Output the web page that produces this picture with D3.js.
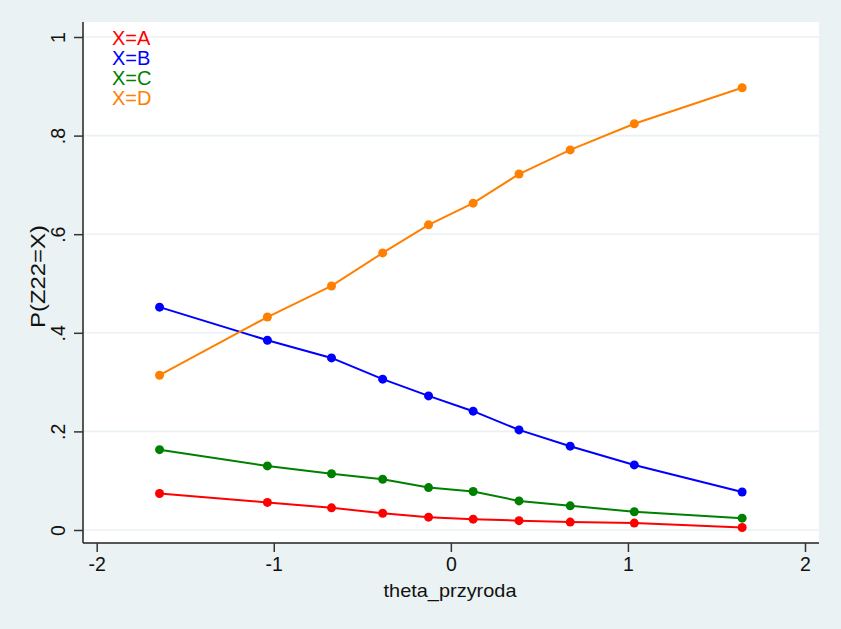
<!DOCTYPE html>
<html>
<head>
<meta charset="utf-8">
<script src="https://cdn.jsdelivr.net/npm/d3@7"></script>
<style>
  html, body { margin: 0; padding: 0; background: #EAF2F3; }
  svg { display: block; font-family: "Liberation Sans", Arial, sans-serif; }
</style>
</head>
<body>
<svg id="chart" width="841" height="629"></svg>
<script>
// ---- data ----
const thetaValues = [-1.645, -1.036, -0.674, -0.385, -0.126, 0.126, 0.385, 0.674, 1.036, 1.645];
const seriesA = [0.074, 0.056, 0.045, 0.034, 0.026, 0.022, 0.019, 0.016, 0.014, 0.005];
const seriesB = [0.452, 0.385, 0.349, 0.306, 0.272, 0.241, 0.203, 0.170, 0.132, 0.077];
const seriesC = [0.163, 0.130, 0.114, 0.103, 0.086, 0.078, 0.059, 0.049, 0.037, 0.024];
const seriesD = [0.314, 0.432, 0.495, 0.562, 0.619, 0.663, 0.722, 0.771, 0.824, 0.897];
const seriesNames = ["X=A", "X=B", "X=C", "X=D"];
const seriesColors = ["#ff0000", "#0000ff", "#008000", "#ff8000"];
const xTicks = [-2, -1, 0, 1, 2];
const yTicks = [0, 0.2, 0.4, 0.6, 0.8, 1];
const yTickLabels = ["0", ".2", ".4", ".6", ".8", "1"];
const xTitle = "theta_przyroda";
const yTitle = "P(Z22=X)";

const allSeries = [seriesA, seriesB, seriesC, seriesD];

const svg = d3.select("#chart");
const W = 841, H = 629;
svg.append("rect").attr("width", W).attr("height", H).attr("fill", "#EAF2F3");

const plot = { left: 83, right: 819, top: 22, bottom: 543 };

const x = d3.scaleLinear().domain([-2, 2]).range([96.7, 805]);
const y = d3.scaleLinear().domain([0, 1]).range([530, 37]);

// plot region
svg.append("rect")
  .attr("x", plot.left).attr("y", plot.top)
  .attr("width", plot.right - plot.left).attr("height", plot.bottom - plot.top)
  .attr("fill", "#ffffff");

// gridlines
svg.append("g").selectAll("line").data(yTicks).join("line")
  .attr("x1", plot.left).attr("x2", plot.right)
  .attr("y1", d => y(d)).attr("y2", d => y(d))
  .attr("stroke", "#EAF2F3").attr("stroke-width", 1.6);

// axes
const xAxis = d3.axisBottom(x).tickValues(xTicks).tickSize(9).tickSizeOuter(0)
  .tickFormat(d => d < 0 ? "-" + Math.abs(d) : String(d));
const gx = svg.append("g").attr("transform", `translate(0,${plot.bottom})`).call(xAxis);
gx.select(".domain").attr("d", `M${plot.left},0H${plot.right}`).attr("stroke", "#222").attr("stroke-width", 1.5);
gx.selectAll(".tick line").attr("stroke", "#333").attr("stroke-width", 1.5);
gx.selectAll(".tick text").attr("font-size", 19.5).attr("fill", "#111").attr("y", 14).attr("dy", "0.71em")
  .style("font-family", '"Liberation Sans", Arial, sans-serif');

const yAxis = d3.axisLeft(y).tickValues(yTicks).tickSize(9).tickSizeOuter(0)
  .tickFormat((d, i) => yTickLabels[i]);
const gy = svg.append("g").attr("transform", `translate(${plot.left},0)`).call(yAxis);
gy.select(".domain").attr("d", `M0,${plot.top}V${plot.bottom}`).attr("stroke", "#222").attr("stroke-width", 1.5);
gy.selectAll(".tick line").attr("stroke", "#333").attr("stroke-width", 1.5);
gy.selectAll(".tick text")
  .attr("font-size", 19.5).attr("fill", "#111")
  .attr("x", null).attr("dy", null)
  .attr("text-anchor", "middle")
  .attr("transform", "translate(-18,0) rotate(-90)")
  .attr("y", 0)
  .style("font-family", '"Liberation Sans", Arial, sans-serif');

// axis titles
svg.append("text")
  .attr("x", (plot.left + plot.right) / 2 - 1).attr("y", 597)
  .attr("text-anchor", "middle").attr("font-size", 19).attr("fill", "#111")
  .attr("textLength", 133).attr("lengthAdjust", "spacingAndGlyphs")
  .text(xTitle);
svg.append("text")
  .attr("transform", `translate(45,276.5) rotate(-90)`)
  .attr("text-anchor", "middle").attr("font-size", 20).attr("fill", "#111")
  .attr("textLength", 103).attr("lengthAdjust", "spacingAndGlyphs")
  .text(yTitle);

// lines and markers
const line = d3.line().x((d, i) => x(thetaValues[i])).y(d => y(d));
allSeries.forEach((s, k) => {
  svg.append("path").datum(s)
    .attr("d", line).attr("fill", "none")
    .attr("stroke", seriesColors[k]).attr("stroke-width", 2);
  svg.append("g").selectAll("circle").data(s).join("circle")
    .attr("cx", (d, i) => x(thetaValues[i])).attr("cy", d => y(d))
    .attr("r", 4.5).attr("fill", seriesColors[k]);
});

// legend
svg.append("g").selectAll("text").data(seriesNames).join("text")
  .attr("x", 112).attr("y", (d, i) => 45 + i * 20)
  .attr("font-size", 20).attr("fill", (d, i) => seriesColors[i])
  .text(d => d);
</script>
</body>
</html>
